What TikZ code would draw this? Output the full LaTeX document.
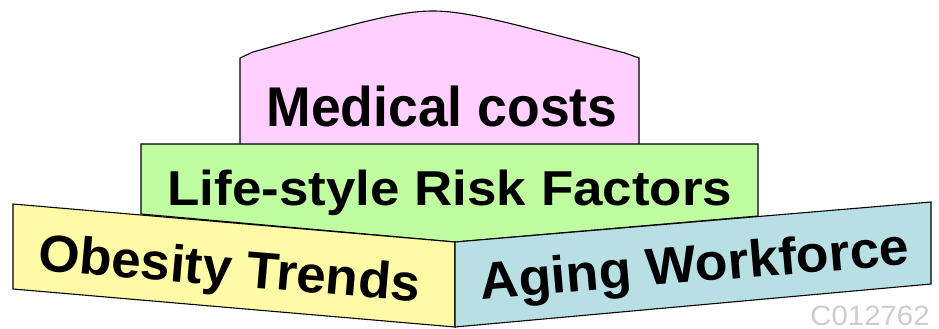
\documentclass[tikz,border=0pt]{standalone}
\usepackage{fontspec}
\setmainfont{Liberation Sans}
\definecolor{pinkfill}{RGB}{255,208,255}
\definecolor{greenfill}{RGB}{192,252,160}
\definecolor{yellowfill}{RGB}{255,250,165}
\definecolor{bluefill}{RGB}{184,224,228}
\definecolor{markgray}{RGB}{205,205,205}
\tikzset{
  panel/.style={draw=black, line width=1.1pt, line join=miter},
  lbl/.style={anchor=base, inner sep=0pt, font=\bfseries},
}
\begin{document}
\begin{tikzpicture}[x=1pt,y=-1pt]
\useasboundingbox (0,0) rectangle (939,329);
% pink panel with arched top
\path[panel, fill=pinkfill] (240,146) -- (240,58) -- (253,52)
  .. controls (360,22) and (400,11) .. (433,11)
  .. controls (470,11) and (520,26) .. (625,53) -- (639,58) -- (639,146) -- cycle;
% green panel
\path[panel, fill=greenfill] (141,144) -- (758,144) -- (758,216) -- (455,242) -- (141,214) -- cycle;
% yellow panel
\path[panel, fill=yellowfill] (13,204) -- (455,242) -- (455,327) -- (13,289) -- cycle;
% blue panel
\path[panel, fill=bluefill] (455,242) -- (931,202) -- (931,284) -- (455,327) -- cycle;
% labels
\node[lbl, xscale=0.956] (med) at (442,126) {\fontsize{56}{56}\selectfont Medical costs};
\node[lbl, xscale=1.08] (life) at (450,205) {\fontsize{49}{49}\selectfont Life-style Risk Factors};
\node[lbl, xscale=1.02, rotate=-4.8] (obes) at (228,286) {\fontsize{52}{52}\selectfont Obesity Trends};
\node[lbl, xscale=1.03, rotate=4.8] (aging) at (696,282) {\fontsize{52}{52}\selectfont Aging Workforce};
\node[anchor=base, inner sep=0pt, text=markgray, xscale=1.05] (mark) at (870,325) {\fontsize{28}{28}\selectfont C012762};
\end{tikzpicture}
\end{document}
